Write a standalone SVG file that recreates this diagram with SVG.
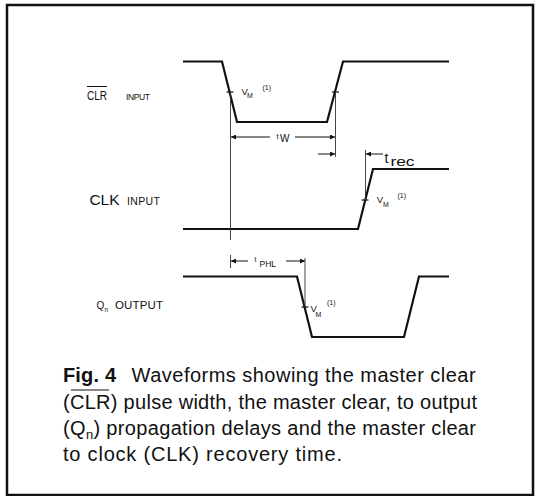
<svg xmlns="http://www.w3.org/2000/svg" width="536" height="496" viewBox="0 0 536 496">
<style>
.wave{fill:none;stroke:#111;stroke-width:2.2;stroke-linejoin:miter}
.ref{fill:none;stroke:#333;stroke-width:0.9}
.dim{fill:none;stroke:#111;stroke-width:1}
.tick{stroke:#111;stroke-width:1.2}
.t{font-family:"Liberation Sans",Arial,sans-serif;fill:#111}
.cap{font-family:"Liberation Sans",Arial,sans-serif;fill:#111;font-size:20px}
</style>
<defs>
<marker id="ah" viewBox="0 0 10 10" refX="10" refY="5" markerWidth="7" markerHeight="5" markerUnits="userSpaceOnUse" orient="auto">
<path d="M0,0 L10,5 L0,10 Z" fill="#111"/>
</marker>
</defs>
<rect id="frame" x="7" y="5" width="526" height="490" fill="#fff" stroke="#111" stroke-width="2.5"/>
<g id="clr-wave">
<polyline class="wave" points="183,61.5 222,61.5 237,122 327,122 343,61.5 449,61.5"/>
<line class="tick" x1="226.5" y1="92" x2="233.5" y2="92"/>
<line class="tick" x1="332" y1="92" x2="339" y2="92"/>
<text class="t" x="241.5" y="95" font-size="9.5">V</text>
<text class="t" x="247" y="98.3" font-size="7">M</text>
<text class="t" x="262.5" y="90" font-size="7">(1)</text>
</g>
<g id="clk-wave">
<polyline class="wave" points="183,229 358,229 373,169 449,169"/>
<line class="tick" x1="361.5" y1="200" x2="368.5" y2="200"/>
<text class="t" x="376.7" y="203.3" font-size="9.5">V</text>
<text class="t" x="383" y="207.3" font-size="7">M</text>
<text class="t" x="397.5" y="198" font-size="7">(1)</text>
</g>
<g id="q-wave">
<polyline class="wave" points="183,276.5 297,276.5 312,337 404,337 419,276.5 449,276.5"/>
<line class="tick" x1="301.5" y1="307" x2="308.5" y2="307"/>
<text class="t" x="310.5" y="311.7" font-size="9.5">V</text>
<text class="t" x="315.5" y="316.7" font-size="7">M</text>
<text class="t" x="327" y="305" font-size="7">(1)</text>
</g>
<g id="connectors">
<line class="ref" x1="230.5" y1="92" x2="230.5" y2="240"/>
<line class="ref" x1="230.5" y1="255" x2="230.5" y2="268"/>
<line class="ref" x1="335.5" y1="92" x2="335.5" y2="157"/>
<line class="ref" x1="365.5" y1="150" x2="365.5" y2="200"/>
<line class="ref" x1="305" y1="258" x2="305" y2="307"/>
<line class="dim" x1="270" y1="137" x2="231" y2="137" marker-end="url(#ah)"/>
<line class="dim" x1="295" y1="137" x2="335" y2="137" marker-end="url(#ah)"/>
<line class="dim" x1="318" y1="154" x2="335" y2="154" marker-end="url(#ah)"/>
<line class="dim" x1="383" y1="154" x2="366" y2="154" marker-end="url(#ah)"/>
<line class="dim" x1="248" y1="261" x2="231" y2="261" marker-end="url(#ah)"/>
<line class="dim" x1="286" y1="261" x2="305" y2="261" marker-end="url(#ah)"/>
</g>
<g id="timing-labels">
<text class="t" x="276.5" y="138.5" font-size="7.5">t</text>
<text class="t" x="280" y="142" font-size="10">W</text>
<text class="t" x="254.5" y="261.5" font-size="7">t</text>
<text class="t" x="259.5" y="266.7" font-size="8.5">PHL</text>
<text class="t" x="384.5" y="163" font-size="14">t</text>
<text class="t" x="390.5" y="166" font-size="13" textLength="24" lengthAdjust="spacingAndGlyphs">rec</text>
</g>
<g id="signal-labels">
<text class="t" x="87" y="100" font-size="12" textLength="20" lengthAdjust="spacingAndGlyphs">CLR</text>
<line x1="87" y1="86.5" x2="107" y2="86.5" stroke="#111" stroke-width="1"/>
<text class="t" x="126" y="100" font-size="8.5" textLength="24">INPUT</text>
<text class="t" x="89.5" y="205" font-size="15.5" textLength="30">CLK</text>
<text class="t" x="127" y="204.5" font-size="10.5" textLength="33">INPUT</text>
<text class="t" x="96.5" y="309.3" font-size="10">Q</text>
<text class="t" x="104.6" y="311.5" font-size="6.5">n</text>
<text class="t" x="115" y="309.3" font-size="11.5" textLength="48">OUTPUT</text>
</g>
<g id="caption">
<text class="cap" x="63" y="382" font-weight="bold" textLength="53">Fig. 4</text>
<text class="cap" x="131.6" y="382" textLength="344">Waveforms showing the master clear</text>
<text class="cap" x="63" y="408.5" textLength="414">(CLR) pulse width, the master clear, to output</text>
<line x1="71" y1="390" x2="109" y2="390" stroke="#111" stroke-width="1.2"/>
<text class="cap" x="63" y="435" textLength="413">(Q<tspan font-size="13" dy="4">n</tspan><tspan dy="-4">) propagation delays and the master clear</tspan></text>
<text class="cap" x="63" y="461" textLength="279">to clock (CLK) recovery time.</text>
</g>
</svg>
